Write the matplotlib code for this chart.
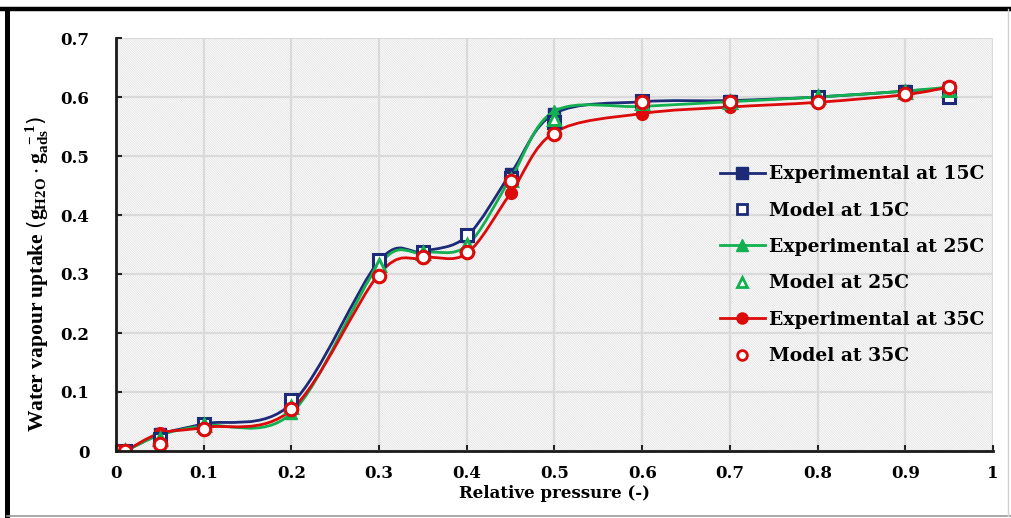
import numpy as np
import matplotlib
matplotlib.use("Agg")
import matplotlib.pyplot as plt
from matplotlib.path import Path
from matplotlib.patches import PathPatch, Rectangle
from matplotlib.lines import Line2D

# Relative pressure points
p_rel = [0.0, 0.01, 0.05, 0.1, 0.2, 0.3, 0.35, 0.4, 0.45, 0.5, 0.6, 0.7, 0.8, 0.9, 0.95]

# Water vapour uptake (g H2O / g ads)
exp_15 = [0.0, 0.0, 0.028, 0.046, 0.080, 0.322, 0.338, 0.364, 0.470, 0.572, 0.592, 0.594, 0.600, 0.610, 0.615]
mod_15 = [0.0, 0.0, 0.020, 0.046, 0.086, 0.324, 0.338, 0.366, 0.462, 0.558, 0.593, 0.592, 0.600, 0.609, 0.600]
exp_25 = [0.0, 0.0, 0.027, 0.043, 0.064, 0.316, 0.336, 0.348, 0.462, 0.576, 0.584, 0.592, 0.600, 0.610, 0.617]
mod_25 = [0.0, 0.0, 0.020, 0.044, 0.074, 0.315, 0.335, 0.350, 0.460, 0.562, 0.590, 0.592, 0.600, 0.608, 0.612]
exp_35 = [0.0, 0.0, 0.030, 0.040, 0.070, 0.300, 0.327, 0.335, 0.437, 0.540, 0.572, 0.583, 0.591, 0.604, 0.617]
mod_35 = [0.0, 0.0, 0.012, 0.037, 0.071, 0.297, 0.329, 0.338, 0.458, 0.537, 0.592, 0.592, 0.592, 0.605, 0.617]

x_ticks = [0, 0.1, 0.2, 0.3, 0.4, 0.5, 0.6, 0.7, 0.8, 0.9, 1]
x_tick_labels = ["0", "0.1", "0.2", "0.3", "0.4", "0.5", "0.6", "0.7", "0.8", "0.9", "1"]
y_ticks = [0, 0.1, 0.2, 0.3, 0.4, 0.5, 0.6, 0.7]
y_tick_labels = ["0", "0.1", "0.2", "0.3", "0.4", "0.5", "0.6", "0.7"]

labels = ["Experimental at 15C", "Model at 15C",
          "Experimental at 25C", "Model at 25C",
          "Experimental at 35C", "Model at 35C"]

NAVY = "#1c2a78"
GREEN = "#12b050"
RED = "#dc0a0a"

SERIF = "DejaVu Serif"


def smooth_path(x, y):
    """Cubic Bezier path through the points (Catmull-Rom style tangents)."""
    x = np.asarray(x, float)
    y = np.asarray(y, float)
    pts = np.column_stack([x, y])
    n = len(pts)
    verts = [pts[0]]
    codes = [Path.MOVETO]
    for i in range(n - 1):
        p0 = pts[i - 1] if i > 0 else pts[i]
        p1 = pts[i]
        p2 = pts[i + 1]
        p3 = pts[i + 2] if i + 2 < n else pts[i + 1]
        c1 = p1 + (p2 - p0) / 6.0
        c2 = p2 - (p3 - p1) / 6.0
        verts += [c1, c2, p2]
        codes += [Path.CURVE4] * 3
    return Path(verts, codes)


fig = plt.figure(figsize=(10.12, 5.18), dpi=100)
ax = fig.add_axes([116 / 1012, (518 - 451) / 518, 877 / 1012, 413 / 518])

ax.set_xlim(0, 1)
ax.set_ylim(0, 0.7)

# hatched plot background
plt.rcParams["hatch.linewidth"] = 0.5
bg = Rectangle((0, 0), 1, 1, transform=ax.transAxes, facecolor="white",
               edgecolor="#dcdcdc", linewidth=0, hatch="\\" * 14, zorder=0)
ax.add_patch(bg)
ax.set_facecolor("white")

ax.grid(True, color="#dadada", linewidth=1.6, zorder=1)
ax.set_axisbelow(True)

series = [
    (exp_15, mod_15, NAVY, "s", "s"),
    (exp_25, mod_25, GREEN, "^", "^"),
    (exp_35, mod_35, RED, "o", "o"),
]

handles = []
for k, (ye, ym, col, m_exp, m_mod) in enumerate(series):
    ax.add_patch(PathPatch(smooth_path(p_rel, ye), facecolor="none", edgecolor=col,
                           linewidth=2.0, zorder=3 + k, capstyle="round",
                           joinstyle="round"))
    ax.plot(p_rel, ye, linestyle="none", marker=m_exp, markersize=8.5,
            color=col, markeredgecolor=col, zorder=3 + k)
for k, (ye, ym, col, m_exp, m_mod) in enumerate(series):
    ax.plot(p_rel, ym, linestyle="none", marker=m_mod, markersize=9,
            markerfacecolor="white", markeredgecolor=col, markeredgewidth=2.2,
            zorder=7 + k)

for ye, ym, col, m_exp, m_mod in series:
    handles.append(Line2D([], [], color=col, linewidth=2.0, marker=m_exp,
                          markersize=8, markerfacecolor=col, markeredgecolor=col))
    handles.append(Line2D([], [], color=col, linestyle="none", marker=m_mod,
                          markersize=7, markerfacecolor="white", markeredgecolor=col,
                          markeredgewidth=2.0))

leg = ax.legend(handles, labels, loc="upper left", bbox_to_anchor=(0.68, 0.71),
                frameon=False, handlelength=2.4, handletextpad=0.2,
                labelspacing=0.98, borderaxespad=0,
                prop={"family": SERIF, "weight": "bold", "size": 13.5})
leg.set_zorder(20)

ax.set_xticks(x_ticks)
ax.set_xticklabels(x_tick_labels, fontfamily=SERIF, fontweight="bold", fontsize=12)
ax.set_yticks(y_ticks)
ax.set_yticklabels(y_tick_labels, fontfamily=SERIF, fontweight="bold", fontsize=12)
ax.tick_params(axis="both", direction="in", length=4, width=1.5, color="#222222")
ax.tick_params(axis="x", pad=10)
ax.tick_params(axis="y", pad=19)

for side in ("top", "right"):
    ax.spines[side].set_visible(False)
for side in ("left", "bottom"):
    ax.spines[side].set_linewidth(2.0)
    ax.spines[side].set_color("#1a1a1a")
    ax.spines[side].set_zorder(12)

ax.set_xlabel("Relative pressure (-)", fontfamily=SERIF, fontweight="bold",
              fontsize=12, labelpad=2)
fig.text(37 / 1012, 1 - 274 / 518,
         r"Water vapour uptake $(\mathregular{g_{H2O}\cdot g_{ads}^{\ -1}})$",
         rotation=90, ha="center", va="center",
         fontfamily="Liberation Serif", fontweight="bold", fontsize=15.5)

# outer frame
fig.add_artist(Line2D([0, 1], [1 - 9 / 518, 1 - 9 / 518], transform=fig.transFigure,
                      color="black", linewidth=3.2))
fig.add_artist(Line2D([7.5 / 1012, 7.5 / 1012], [0, 1 - 9 / 518], transform=fig.transFigure,
                      color="black", linewidth=3.6))
fig.add_artist(Line2D([7.5 / 1012, 1], [2 / 518, 2 / 518], transform=fig.transFigure,
                      color="#9a9a9a", linewidth=1.2))
fig.add_artist(Line2D([1008 / 1012, 1008 / 1012], [2 / 518, 1 - 9 / 518],
                      transform=fig.transFigure, color="#d0d0d0", linewidth=1.0))

fig.savefig("out.png", dpi=100)
